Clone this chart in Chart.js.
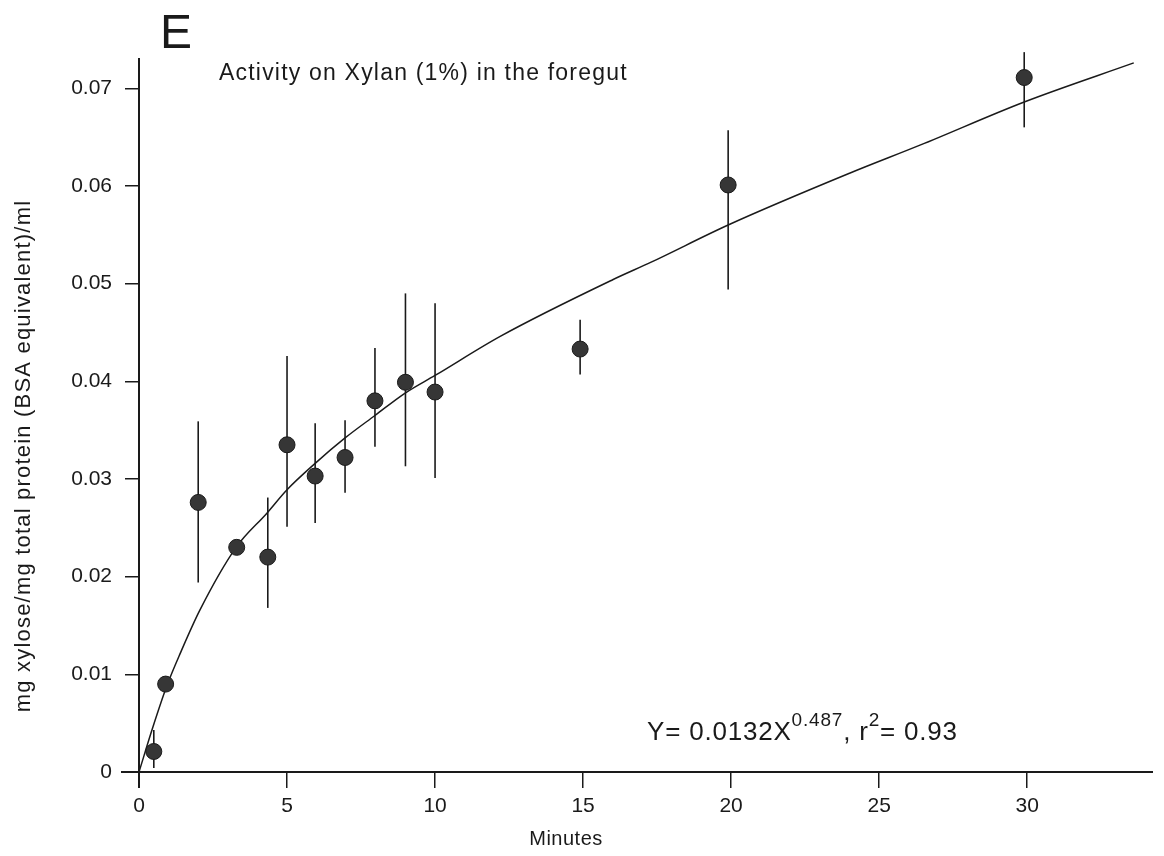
<!DOCTYPE html>
<html>
<head>
<meta charset="utf-8">
<script src="https://cdn.jsdelivr.net/npm/chart.js@4.4.0/dist/chart.umd.min.js"></script>
<style>
  html, body { margin: 0; padding: 0; background: #fff; }
  #wrap { width: 1164px; height: 856px; position: relative; }
</style>
</head>
<body>
<div id="wrap"><canvas id="chart"></canvas></div>
<script>
// --- data ---
const minutes  = [0.5, 0.9, 2, 3.3, 4.35, 5, 5.95, 6.96, 7.97, 9, 10, 14.9, 19.9, 29.9];
const activity = [0.0021, 0.0090, 0.0276, 0.0230, 0.0220, 0.0335, 0.0303, 0.0322, 0.0380, 0.0399, 0.0389, 0.0433, 0.0601, 0.0711];
const errLow   = [0.0004, null, 0.0194, null, 0.0168, 0.0251, 0.0255, 0.0286, 0.0333, 0.0313, 0.0301, 0.0407, 0.0494, 0.0660];
const errHigh  = [0.0043, null, 0.0359, null, 0.0281, 0.0426, 0.0357, 0.0360, 0.0434, 0.0490, 0.0480, 0.0463, 0.0657, 0.0737];

// fitted curve as traced on the figure
const fitX = [0, 0.47, 0.95, 1.4, 2.06, 3.28, 4.32, 5.0, 5.95, 6.96, 7.97, 8.99, 10.0, 12.2, 16.0, 17.3, 19.9, 24.0, 26.4, 29.9, 33.6];
const fitY = [0, 0.0046, 0.0089, 0.0122, 0.0166, 0.0230, 0.0265, 0.0289, 0.0316, 0.0342, 0.0365, 0.0388, 0.0406, 0.0446, 0.0504, 0.0522, 0.0560, 0.0613, 0.0642, 0.0686, 0.0726];

const xTicks = [0, 5, 10, 15, 20, 25, 30];
const yTicks = [0, 0.01, 0.02, 0.03, 0.04, 0.05, 0.06, 0.07];

const ink = '#1a1a1a';
const font = '"Liberation Sans", Arial, sans-serif';

// vertical error bars, drawn under the points
const errorBars = {
  id: 'errorBars',
  beforeDatasetsDraw(chart) {
    const { ctx, scales: { x, y } } = chart;
    ctx.save();
    ctx.strokeStyle = ink;
    ctx.lineWidth = 1.6;
    minutes.forEach((m, i) => {
      if (errLow[i] == null) return;
      const px = x.getPixelForValue(m);
      ctx.beginPath();
      ctx.moveTo(px, y.getPixelForValue(errLow[i]));
      ctx.lineTo(px, y.getPixelForValue(errHigh[i]));
      ctx.stroke();
    });
    ctx.restore();
  }
};

// axis lines (they run a little past the origin) and all the free text
const decorations = {
  id: 'decorations',
  afterDraw(chart) {
    const { ctx, chartArea: a, scales: { x, y } } = chart;
    const x0 = x.getPixelForValue(0), y0 = y.getPixelForValue(0);
    ctx.save();
    ctx.strokeStyle = ink;
    ctx.lineWidth = 2;
    ctx.beginPath();
    ctx.moveTo(a.left - 18, y0); ctx.lineTo(a.right, y0);
    ctx.moveTo(x0, a.top); ctx.lineTo(x0, a.bottom + 16);
    ctx.stroke();

    ctx.fillStyle = ink;
    ctx.textBaseline = 'alphabetic';

    // panel letter
    ctx.textAlign = 'center';
    ctx.font = `48px ${font}`;
    ctx.fillText('E', a.left + 37, a.top - 10);

    // title
    ctx.textAlign = 'left';
    ctx.font = `23px ${font}`;
    ctx.letterSpacing = '1.2px';
    ctx.fillText('Activity on Xylan (1%) in the foregut', a.left + 80, a.top + 22);

    // equation with superscripts
    ctx.letterSpacing = '0.8px';
    let cx = a.left + 508;
    const base = y0 - 32;
    const put = (t, size, dy) => {
      ctx.font = `${size}px ${font}`;
      ctx.fillText(t, cx, base + dy);
      cx += ctx.measureText(t).width;
    };
    put('Y= 0.0132X', 26, 0);
    put('0.487', 19, -14);
    put(', r', 26, 0);
    put('2', 19, -14);
    put('= 0.93', 26, 0);

    // x title
    ctx.textAlign = 'center';
    ctx.font = `20px ${font}`;
    ctx.letterSpacing = '0.5px';
    ctx.fillText('Minutes', 566, y0 + 73);

    // y title
    ctx.translate(30, 456);
    ctx.rotate(-Math.PI / 2);
    ctx.font = `22px ${font}`;
    ctx.letterSpacing = '1.2px';
    ctx.fillText('mg xylose/mg total protein (BSA equivalent)/ml', 0, 0);
    ctx.restore();
  }
};

new Chart(document.getElementById('chart'), {
  type: 'scatter',
  data: {
    datasets: [{
      label: 'Activity',
      data: minutes.map((m, i) => ({ x: m, y: activity[i] })),
      pointRadius: 8,
      pointBackgroundColor: '#363636',
      pointBorderColor: '#1a1a1a',
      pointBorderWidth: 1,
      showLine: false
    }, {
      label: 'Fit',
      data: fitX.map((m, i) => ({ x: m, y: fitY[i] })),
      showLine: true,
      pointRadius: 0,
      borderColor: ink,
      borderWidth: 1.5,
      cubicInterpolationMode: 'monotone'
    }]
  },
  options: {
    responsive: true,
    maintainAspectRatio: false,
    animation: false,
    events: [],
    layout: { padding: { left: 0, top: 58, right: 11, bottom: 0 } },
    plugins: { legend: { display: false }, tooltip: { enabled: false } },
    scales: {
      x: {
        type: 'linear',
        min: 0,
        max: 34.25,
        afterBuildTicks: s => { s.ticks = xTicks.map(v => ({ value: v })); },
        afterFit: s => { s.height = 84; },
        border: { display: false },
        grid: { drawOnChartArea: false, drawTicks: true, tickLength: 16, color: ink, lineWidth: 1.5 },
        ticks: { color: ink, padding: 6, maxRotation: 0, font: { family: font, size: 21 } }
      },
      y: {
        type: 'linear',
        min: 0,
        max: 0.0731,
        afterBuildTicks: s => { s.ticks = yTicks.map(v => ({ value: v })); },
        afterFit: s => { s.width = 139; },
        border: { display: false },
        grid: { drawOnChartArea: false, drawTicks: true, tickLength: 14, color: ink, lineWidth: 1.5 },
        ticks: {
          color: ink,
          padding: 13,
          font: { family: font, size: 21 },
          callback: v => v === 0 ? '0' : v.toFixed(2)
        }
      }
    }
  },
  plugins: [errorBars, decorations]
});
</script>
</body>
</html>
